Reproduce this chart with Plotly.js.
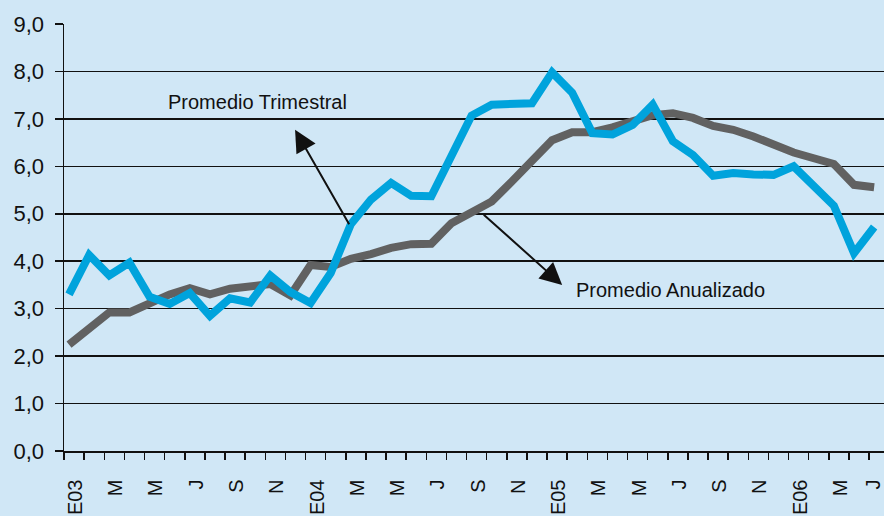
<!DOCTYPE html>
<html>
<head>
<meta charset="utf-8">
<script src="https://cdn.plot.ly/plotly-3.0.1.min.js"></script>
<style>html,body{margin:0;padding:0;background:#d0e7f6;overflow:hidden;}#chart{width:884px;height:516px;}</style>
</head>
<body>
<div id="chart"></div>
<script>
// Months Jan 2003 .. May 2006 (index 0..40)
const monthIndex = [];
for (let i = 0; i <= 40; i++) monthIndex.push(i);

const promedioTrimestral = [
  3.30, 4.13, 3.70, 3.97, 3.25, 3.10, 3.33, 2.85, 3.22, 3.13,
  3.70, 3.35, 3.12, 3.75, 4.78, 5.30, 5.65, 5.38, 5.37, 6.20,
  7.07, 7.30, 7.33, 7.33, 7.98, 7.55, 6.70, 6.67, 6.87, 7.30,
  6.53, 6.24, 5.80, 5.86, 5.83, 5.82, 6.00, 5.60, 5.17, 4.17,
  4.72
];
const promedioAnualizado = [
  2.24, 2.58, 2.92, 2.92, 3.12, 3.30, 3.43, 3.30, 3.42, 3.47,
  3.52, 3.28, 3.92, 3.88, 4.05, 4.15, 4.28, 4.36, 4.37, 4.80,
  5.03, 5.26, 5.68, 6.12, 6.55, 6.72, 6.72, 6.82, 6.97, 7.08,
  7.12, 7.02, 6.85, 6.77, 6.63, 6.46, 6.29, 6.17, 6.05, 5.61,
  5.56
];
const tickLabels = ["E03","M","M","J","S","N","E04","M","M","J","S","N",
                    "E05","M","M","J","S","N","E06","M","J"];
const labelMonths = [0,2,4,6,8,10,12,14,16,18,20,22,24,26,28,30,32,34,36,38,40];

const labelPos = labelMonths.map((m, i) => i === labelMonths.length - 1 ? m - 0.05 : m + 0.32);
const tickPos = [];
for (let k = 0; k <= 41; k++) tickPos.push(k - 0.25);

const font = "Liberation Sans, Arial, Helvetica, sans-serif";

const traces = [
  {x: monthIndex, y: promedioAnualizado, type: 'scatter', mode: 'lines',
   line: {color: '#616161', width: 8}, hoverinfo: 'skip'},
  {x: monthIndex, y: promedioTrimestral, type: 'scatter', mode: 'lines',
   line: {color: '#00a3dc', width: 8}, hoverinfo: 'skip'}
];

const layout = {
  width: 884, height: 516,
  margin: {l: 64, r: 0, t: 24, b: 65},
  paper_bgcolor: '#d0e7f6', plot_bgcolor: '#d0e7f6',
  separators: ',.',
  showlegend: false,
  font: {family: font, color: '#111'},
  xaxis: {
    type: 'linear', range: [-0.25, 40.49], fixedrange: true,
    showgrid: false, zeroline: false,
    showline: true, linecolor: '#111', linewidth: 1.5,
    tickmode: 'array', tickvals: labelPos, ticktext: tickLabels,
    ticks: '', tickangle: -90, ticklabelstandoff: 19,
    ticklabeloverflow: 'allow',
    tickfont: {size: 20, family: font, color: '#111'},
    minor: {tickmode: 'array', tickvals: tickPos, ticks: 'outside', ticklen: 7,
            tickwidth: 1.5, tickcolor: '#111', showgrid: false}
  },
  yaxis: {
    range: [0, 9], fixedrange: true,
    tickmode: 'array', tickvals: [0,1,2,3,4,5,6,7,8,9], tickformat: '.1f',
    showgrid: true, gridcolor: '#111', gridwidth: 1.5,
    zeroline: false, showline: true, linecolor: '#111', linewidth: 1.5,
    ticks: 'outside', ticklen: 8, tickwidth: 1.5, tickcolor: '#111',
    ticklabelstandoff: 6,
    tickfont: {size: 22, family: font, color: '#111'}
  },
  annotations: [
    {x: 9.34, y: 7.35, xref: 'x', yref: 'y', text: 'Promedio Trimestral',
     showarrow: false, xanchor: 'center', yanchor: 'middle',
     font: {size: 20, family: font, color: '#111'}},
    {x: 29.9, y: 3.40, xref: 'x', yref: 'y', text: 'Promedio Anualizado',
     showarrow: false, xanchor: 'center', yanchor: 'middle',
     font: {size: 20, family: font, color: '#111'}},
    {x: 11.23, y: 6.77, xref: 'x', yref: 'y', ax: 13.96, ay: 4.75,
     axref: 'x', ayref: 'y', text: '', showarrow: true,
     arrowhead: 2, arrowsize: 2.2, arrowwidth: 2, arrowcolor: '#111'},
    {x: 24.5, y: 3.50, xref: 'x', yref: 'y', ax: 20.53, ay: 5.01,
     axref: 'x', ayref: 'y', text: '', showarrow: true,
     arrowhead: 2, arrowsize: 2.2, arrowwidth: 2, arrowcolor: '#111'}
  ]
};

Plotly.newPlot('chart', traces, layout, {staticPlot: true, displayModeBar: false});
</script>
</body>
</html>
